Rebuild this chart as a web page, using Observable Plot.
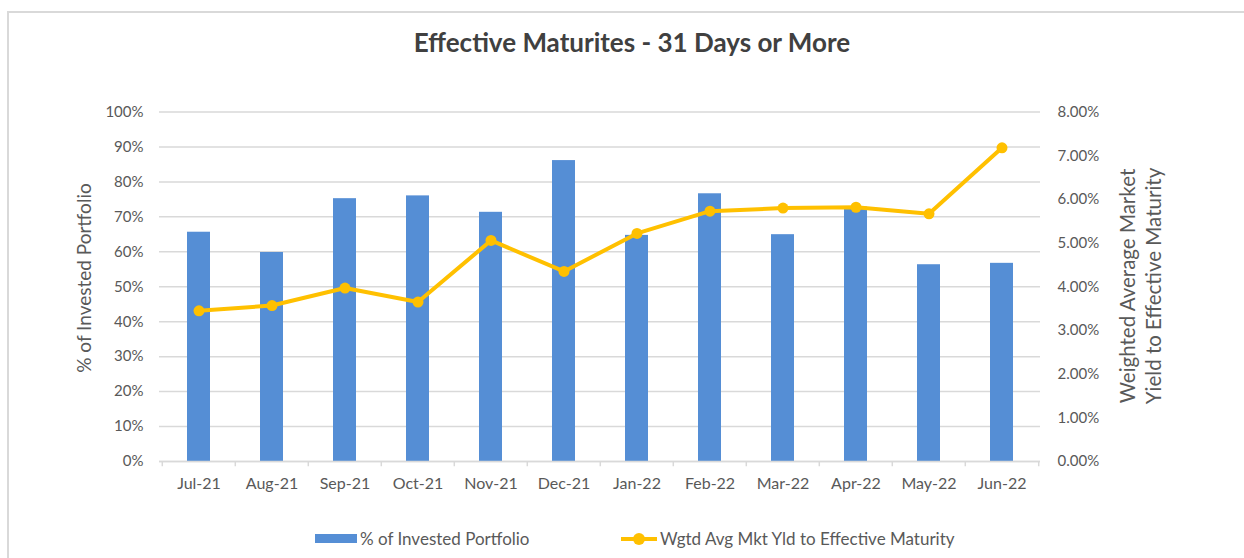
<!DOCTYPE html>
<html>
<head>
<meta charset="utf-8">
<script src="https://cdn.jsdelivr.net/npm/d3@7"></script>
<script src="https://cdn.jsdelivr.net/npm/@observablehq/plot@0.6"></script>
<style>
  html, body { margin: 0; padding: 0; background: #fff; }
  body { width: 1244px; height: 558px; position: relative; overflow: hidden; font-family: Lato, "Open Sans", sans-serif; color: #595959; }
  #frame { position: absolute; left: 7px; top: 11px; width: 1300px; height: 600px; border: 2px solid #d9d9d9; box-sizing: border-box; }
  #title { position: absolute; left: 0; top: 26px; width: 1264px; text-align: center; font-size: 26px; line-height: 32px; font-weight: 700; color: #404040; }
  #chart { position: absolute; left: 0; top: 0; }
  .ytitle { position: absolute; color: #595959; white-space: nowrap; transform: translate(-50%, -50%) rotate(-90deg); line-height: 26px; text-align: center; }
  #legend { position: absolute; top: 528px; left: 0; width: 1244px; font-size: 17px; color: #595959; }
  .li { position: absolute; display: flex; align-items: center; white-space: nowrap; }
  .sw-bar { width: 42px; height: 9px; background: #558ED5; margin-right: 3px; }
  .sw-line { position: relative; width: 36px; height: 12px; margin-right: 3px; }
  .sw-line::before { content: ""; position: absolute; left: 0; right: 0; top: 4px; height: 4px; background: #FFC000; }
  .sw-line::after { content: ""; position: absolute; left: 12px; top: 0; width: 12px; height: 12px; border-radius: 50%; background: #FFC000; }
</style>
</head>
<body>
<div id="frame"></div>
<div id="chart"></div>
<div id="title">Effective Maturites - 31 Days or More</div>
<div class="ytitle" style="left:84px; top:278px; font-size:19px;">% of Invested Portfolio</div>
<div class="ytitle" style="left:1140px; top:286px; font-size:20.5px;">Weighted Average Market<br>Yield to Effective Maturity</div>
<div id="legend">
  <div class="li" style="left:315px;"><div class="sw-bar"></div><span>% of Invested Portfolio</span></div>
  <div class="li" style="left:621px;"><div class="sw-line"></div><span>Wgtd Avg Mkt Yld to Effective Maturity</span></div>
</div>
<script>
const months = ["Jul-21", "Aug-21", "Sep-21", "Oct-21", "Nov-21", "Dec-21", "Jan-22", "Feb-22", "Mar-22", "Apr-22", "May-22", "Jun-22"];
const investedPct = [65.6, 59.8, 75.2, 76.0, 71.3, 86.1, 64.7, 76.6, 64.9, 72.8, 56.3, 56.7];
const yieldPct = [3.45, 3.57, 3.97, 3.65, 5.06, 4.35, 5.22, 5.73, 5.80, 5.82, 5.67, 7.18];
const leftTicks = [0, 10, 20, 30, 40, 50, 60, 70, 80, 90, 100];
const rightTicks = [0, 1, 2, 3, 4, 5, 6, 7, 8];

const ratio = 100 / 8; // right axis (0–8%) mapped onto left axis (0–100%)
const data = months.map((m, i) => ({ month: m, pct: investedPct[i], yld: yieldPct[i] * ratio }));

const W = 1244, H = 558;
const mL = 159, mR = 204, mT = 111.5, mB = 97;
const step = (W - mL - mR) / months.length;
const padIn = 0.687;

const chart = Plot.plot({
  width: W,
  height: H,
  marginTop: mT,
  marginBottom: mB,
  marginLeft: mL,
  marginRight: mR,
  style: { fontFamily: "Lato, 'Open Sans', sans-serif", fontSize: "15px", color: "#595959", background: "transparent", overflow: "visible" },
  x: { type: "band", domain: months, paddingInner: padIn, paddingOuter: padIn / 2 },
  y: { domain: [0, 100] },
  marks: [
    Plot.gridY(leftTicks, { stroke: "#d9d9d9", strokeOpacity: 1, strokeWidth: 1.5 }),
    Plot.axisY(leftTicks, { anchor: "left", tickSize: 0, tickPadding: 16, tickFormat: d => d + "%", label: null, fill: "#595959" }),
    Plot.axisY(rightTicks.map(v => v * ratio), { anchor: "right", tickSize: 0, tickPadding: 17, tickFormat: d => (d / ratio).toFixed(2) + "%", label: null, fill: "#595959" }),
    Plot.barY(data, { x: "month", y: "pct", fill: "#558ED5" }),
    Plot.ruleY([0], { stroke: "#d9d9d9", strokeWidth: 1.5 }),
    Plot.ruleX(months, { x: d => d, y1: 0, y2: -1.5, dx: -step / 2, stroke: "#d9d9d9", strokeWidth: 1.5 }),
    Plot.ruleX([months[months.length - 1]], { x: d => d, y1: 0, y2: -1.5, dx: step / 2, stroke: "#d9d9d9", strokeWidth: 1.5 }),
    Plot.axisX({ tickSize: 0, tickPadding: 16, label: null, fill: "#595959", fontSize: 16 }),
    Plot.line(data, { x: "month", y: "yld", stroke: "#FFC000", strokeWidth: 4, strokeLinejoin: "round" }),
    Plot.dot(data, { x: "month", y: "yld", r: 5.5, fill: "#FFC000", stroke: "none" })
  ]
});
document.getElementById("chart").appendChild(chart);
</script>
</body>
</html>
